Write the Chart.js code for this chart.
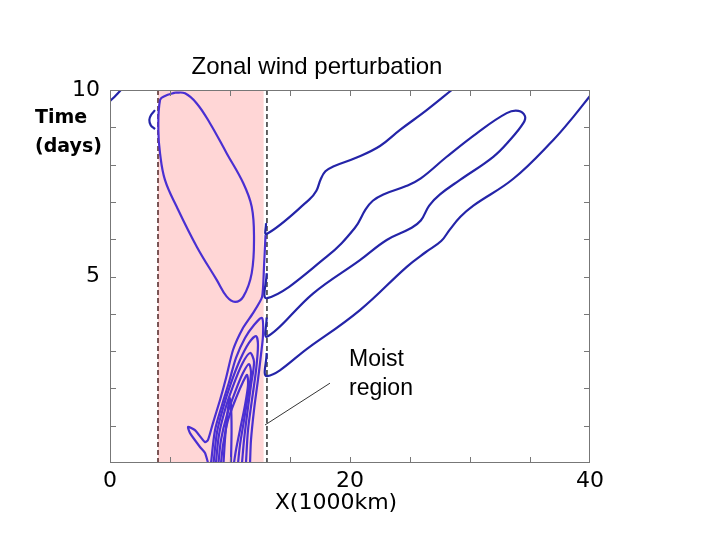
<!DOCTYPE html>
<html>
<head>
<meta charset="utf-8">
<script src="https://cdn.jsdelivr.net/npm/chart.js@4/dist/chart.umd.min.js"></script>
<style>
html, body { margin: 0; padding: 0; background: #fff; }
</style>
</head>
<body>
<canvas id="chart" width="720" height="540"></canvas>
<script>
// tick labels
const xLabels = [0, 20, 40];
const yLabels = [5, 10];

// moist region (x, 1000km)
const moistFrom = 4.0;
const moistTo = 12.8;
const moistLeftEdge = [[4.0, 0], [4.0, 10]];
const moistRightEdge = [[13.08, 0], [13.08, 10]];

// contours east of the moist region (x, days)
const lineA = [[13.0, 6.43], [13.05, 6.14], [16.6, 7.06], [17.2, 7.3], [17.55, 7.6], [17.95, 7.82],
  [18.6, 7.95], [20.56, 8.19], [22.5, 8.5], [24.17, 8.93], [26.39, 9.46], [28.48, 10.0]];
const lineB = [[13.05, 5.09], [13.1, 4.42], [18.06, 5.53], [20.4, 6.3], [21.3, 6.8], [21.9, 7.03],
  [22.78, 7.2], [24.73, 7.43], [25.9, 7.63], [28.06, 8.21], [30.56, 8.84], [33.06, 9.38], [34.03, 9.44],
  [34.58, 9.3], [34.44, 9.11], [33.33, 8.66], [31.94, 8.21], [29.17, 7.59], [27.5, 7.2], [26.6, 6.9],
  [25.9, 6.5], [25.1, 6.3], [23.06, 5.98], [20.83, 5.44], [16.94, 4.55], [13.11, 3.39], [13.05, 3.9]];
const lineC = [[13.05, 2.95], [13.1, 2.33], [16.67, 3.12], [20.83, 4.1], [24.73, 5.26], [26.3, 5.65],
  [27.6, 5.95], [28.3, 6.25], [29.2, 6.6], [30.28, 6.9], [33.61, 7.62], [36.94, 8.66], [38.61, 9.28], [40, 9.84]];
const cornerLine = [[0, 9.7], [0.5, 9.86], [0.9, 10]];
const smallArc = [[3.75, 9.46], [3.42, 9.33], [3.28, 9.2], [3.39, 9.06], [3.75, 8.95]];

// contours inside the moist region
const bigLoop = [[5.42, 9.93], [4.58, 9.84], [4.17, 9.73], [4.03, 8.93], [4.17, 8.3], [4.58, 7.59],
  [5.56, 6.87], [7.23, 5.8], [8.89, 4.91], [9.73, 4.46], [10.42, 4.32], [11.11, 4.46], [11.81, 5.09],
  [12.0, 6.07], [11.81, 6.87], [11.11, 7.5], [9.73, 8.3], [8.33, 9.11], [7.23, 9.64], [6.25, 9.91], [5.42, 9.93]];
const k1 = [[8.17, 0], [7.92, 0.27], [7.5, 0.43], [6.67, 0.8], [6.5, 0.97], [7.08, 0.88], [7.92, 0.56],
  [8.17, 0.62], [8.58, 1.07], [9.17, 1.69], [9.67, 2.28], [10.25, 3.03], [11.08, 3.62], [11.92, 4.02],
  [12.67, 4.45], [12.83, 5.23], [12.96, 6.11]];
const k2 = [[8.42, 0], [8.75, 0.88], [9.33, 1.55], [9.92, 2.17], [10.5, 2.82], [11.25, 3.35], [12.0, 3.7],
  [12.67, 3.89], [12.75, 3.43], [12.58, 2.9], [12.33, 2.23], [12.0, 1.42], [11.75, 0.62], [11.67, 0]];
const k3 = [[8.63, 0], [8.92, 0.83], [9.42, 1.47], [10.08, 2.14], [10.83, 2.76], [11.58, 3.22], [12.17, 3.4],
  [12.33, 3.16], [12.17, 2.49], [11.83, 1.69], [11.5, 0.88], [11.33, 0]];
const k4 = [[8.83, 0], [9.08, 0.75], [9.58, 1.42], [10.25, 2.06], [11.0, 2.65], [11.67, 2.95],
  [12.0, 2.71], [11.75, 2.09], [11.42, 1.29], [11.17, 0.62], [11.0, 0]];
const k5 = [[9.04, 0], [9.25, 0.62], [9.75, 1.29], [10.42, 1.9], [11.08, 2.41], [11.58, 2.65],
  [11.75, 2.41], [11.5, 1.82], [11.17, 1.15], [10.83, 0.48], [10.67, 0]];
const k6 = [[9.25, 0], [9.42, 0.48], [9.83, 1.15], [10.5, 1.74], [11.08, 2.17], [11.42, 2.36],
  [11.5, 2.09], [11.25, 1.55], [10.83, 0.88], [10.5, 0.35], [10.33, 0]];
const k7 = [[9.46, 0], [9.58, 0.62], [9.75, 1.21], [9.96, 1.74], [10.08, 1.55], [10.13, 0.88], [10.08, 0]];

// pointer from the "Moist region" label
const pointer = [[18.33, 2.14], [12.92, 1.02]];

const pts = arr => arr.map(([x, y]) => ({ x, y }));
const outerBlue = '#2424a8';
const innerViolet = '#4a2fd2';

function contour(arr, color, tension) {
  return {
    data: pts(arr), showLine: true, borderColor: color, borderWidth: 2.2,
    pointRadius: 0, tension: tension, fill: false
  };
}

const datasets = [
  contour(lineA, outerBlue, 0.4),
  contour(lineB, outerBlue, 0.4),
  contour(lineC, outerBlue, 0.4),
  contour(cornerLine, outerBlue, 0.3),
  contour(smallArc, outerBlue, 0.4),
  contour(bigLoop, innerViolet, 0.4),
  contour(k1, innerViolet, 0.2),
  contour(k2, innerViolet, 0.3),
  contour(k3, innerViolet, 0.3),
  contour(k4, innerViolet, 0.3),
  contour(k5, innerViolet, 0.3),
  contour(k6, innerViolet, 0.3),
  contour(k7, innerViolet, 0.3),
  { data: pts(moistLeftEdge), showLine: true, borderColor: '#5a3030', borderWidth: 1.6,
    borderDash: [5, 3], pointRadius: 0 },
  { data: pts(moistRightEdge), showLine: true, borderColor: '#222', borderWidth: 1.4,
    borderDash: [5, 3], pointRadius: 0 },
  { data: pts(pointer), showLine: true, borderColor: '#000', borderWidth: 0.8, pointRadius: 0 }
];

// pink band behind the contours
const shading = {
  id: 'shading',
  beforeDatasetsDraw(chart) {
    const { ctx, chartArea: a, scales: { x } } = chart;
    const l = x.getPixelForValue(moistFrom), r = x.getPixelForValue(moistTo);
    ctx.save();
    ctx.fillStyle = '#ffd6d6';
    ctx.fillRect(l, a.top, r - l, a.bottom - a.top);
    ctx.restore();
  }
};

// grey frame, inward ticks and the free text
const frame = {
  id: 'frame',
  afterDatasetsDraw(chart) {
    const { ctx, chartArea: a, scales: { x, y } } = chart;
    ctx.save();
    ctx.strokeStyle = '#777';
    ctx.lineWidth = 1;
    ctx.strokeRect(a.left + 0.5, a.top + 0.5, a.right - a.left - 1, a.bottom - a.top - 1);
    ctx.beginPath();
    x.ticks.forEach(t => {
      if (t.value <= 0 || t.value >= 40) return;
      const px = Math.round(x.getPixelForValue(t.value)) + 0.5;
      ctx.moveTo(px, a.bottom); ctx.lineTo(px, a.bottom - 6);
      ctx.moveTo(px, a.top); ctx.lineTo(px, a.top + 6);
    });
    y.ticks.forEach(t => {
      if (t.value <= 0 || t.value >= 10) return;
      const py = Math.round(y.getPixelForValue(t.value)) + 0.5;
      ctx.moveTo(a.left, py); ctx.lineTo(a.left + 6, py);
      ctx.moveTo(a.right, py); ctx.lineTo(a.right - 6, py);
    });
    ctx.stroke();

    ctx.fillStyle = '#000';
    ctx.textBaseline = 'middle';
    ctx.textAlign = 'center';
    ctx.font = '24px "Liberation Sans", Arial, sans-serif';
    ctx.fillText('Zonal wind perturbation', 317, 67);
    ctx.textAlign = 'left';
    ctx.font = '23px "Liberation Sans", Arial, sans-serif';
    ctx.fillText('Moist', 349, 360);
    ctx.fillText('region', 349, 389);
    ctx.font = 'bold 19px "DejaVu Sans", sans-serif';
    ctx.fillText('Time', 35, 118);
    ctx.fillText('(days)', 35, 147);
    ctx.textAlign = 'center';
    ctx.font = '22px "DejaVu Sans", sans-serif';
    ctx.fillText('X(1000km)', 336, 503);
    ctx.restore();
  }
};

new Chart(document.getElementById('chart'), {
  type: 'scatter',
  data: { datasets },
  plugins: [shading, frame],
  options: {
    responsive: false,
    animation: false,
    devicePixelRatio: 1,
    layout: { padding: { left: 0, top: 90, right: 130, bottom: 37 } },
    plugins: { legend: { display: false }, tooltip: { enabled: false } },
    scales: {
      x: {
        type: 'linear', min: 0, max: 40,
        grid: { display: false, drawTicks: false },
        border: { display: false },
        afterFit: s => { s.height = 40; },
        ticks: {
          stepSize: 5, padding: 5, color: '#000', maxRotation: 0, autoSkip: false,
          font: { family: 'DejaVu Sans', size: 22 },
          callback: v => xLabels.includes(v) ? String(v) : ''
        }
      },
      y: {
        type: 'linear', min: 0, max: 10,
        grid: { display: false, drawTicks: false },
        border: { display: false },
        afterFit: s => { s.width = 110; },
        ticks: {
          stepSize: 1, padding: 10, color: '#000', autoSkip: false,
          font: { family: 'DejaVu Sans', size: 22 },
          callback: v => yLabels.includes(v) ? String(v) : ''
        }
      }
    }
  }
});
</script>
</body>
</html>
